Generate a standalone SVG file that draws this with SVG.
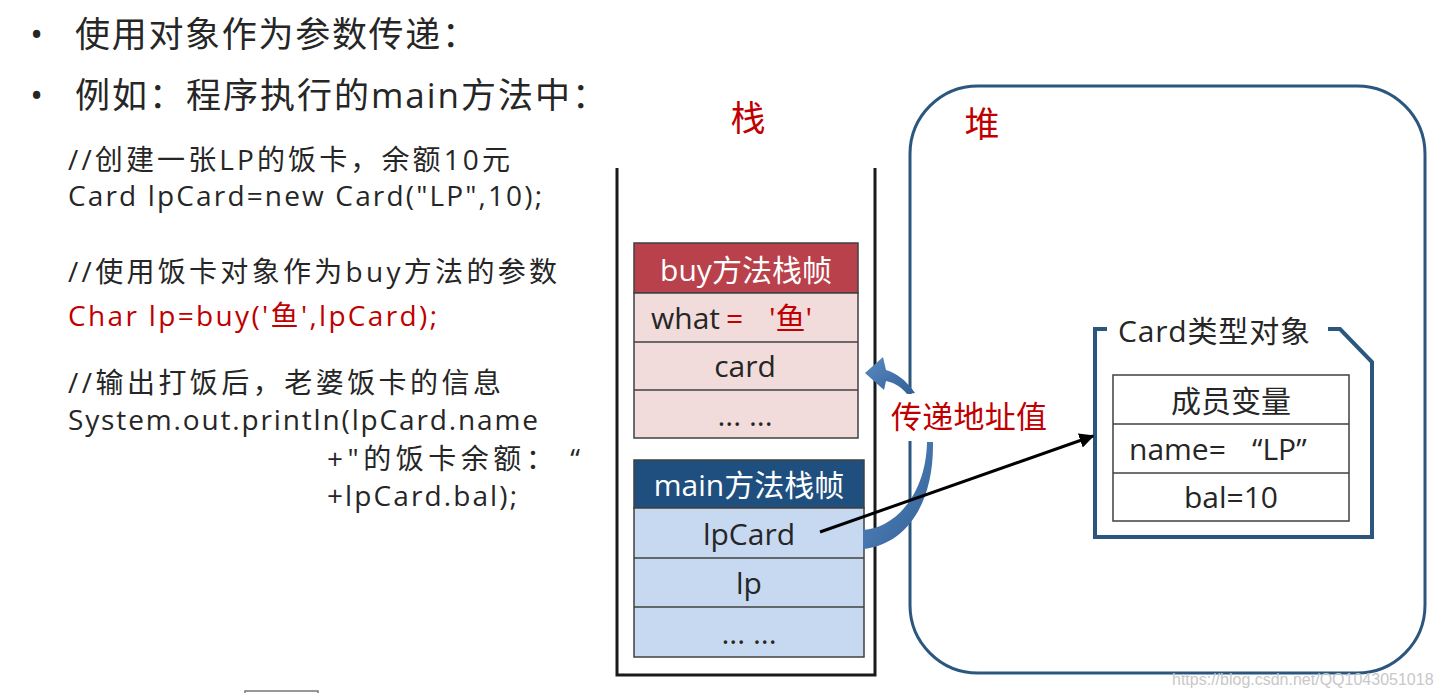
<svg xmlns="http://www.w3.org/2000/svg" width="1440" height="693" viewBox="0 0 1440 693">
<style>
text{font-family:"Open Sans","Noto Sans CJK SC",sans-serif;fill:#262626}
.b{font-size:35px}
.c{font-size:28px}
.red{fill:#c00000}
.cell{font-size:30px;text-anchor:middle}
.hd{font-size:30px;fill:#fff;text-anchor:middle}
.line{stroke:#404040;stroke-width:1.5}
</style>
<defs>
<marker id="ah" viewBox="0 0 10 10" refX="9" refY="5" markerWidth="5" markerHeight="5" orient="auto"><path d="M0,0 L10,5 L0,10 z" fill="#000"/></marker>
<linearGradient id="bg" x1="0" y1="0" x2="1" y2="1"><stop offset="0" stop-color="#5b8bc4"/><stop offset="1" stop-color="#2f5f94"/></linearGradient>
</defs>
<rect width="1440" height="693" fill="#fff"/>

<g id="intro">
<text class="b" x="30" y="47">•</text>
<text class="b" x="75" y="47" textLength="402">使用对象作为参数传递：</text>
<text class="b" x="30" y="108">•</text>
<text class="b" x="75" y="108" textLength="532">例如：程序执行的main方法中：</text>
</g>

<g id="code">
<text class="c" x="68" y="170" textLength="442">//创建一张LP的饭卡，余额10元</text>
<text class="c" x="68" y="206" textLength="474">Card lpCard=new Card("LP",10);</text>
<text class="c" x="68" y="282" textLength="489">//使用饭卡对象作为buy方法的参数</text>
<text class="c red" x="68" y="326" textLength="369">Char lp=buy('鱼',lpCard);</text>
<text class="c" x="68" y="393" textLength="433">//输出打饭后，老婆饭卡的信息</text>
<text class="c" x="68" y="430" textLength="470">System.out.println(lpCard.name</text>
<text class="c" x="327" y="469" textLength="253">+"的饭卡余额：  “</text>
<text class="c" x="327" y="506" textLength="190">+lpCard.bal);</text>
</g>

<g id="heap">
<rect x="910" y="86" width="515" height="587" rx="68" fill="none" stroke="#2b577f" stroke-width="3"/>
<text x="982" y="137" font-size="35" class="red" text-anchor="middle">堆</text>
</g>

<g id="stack">
<path d="M617,168 V675 H875 V168" fill="none" stroke="#1a1a1a" stroke-width="3"/>
<text x="748" y="131" font-size="35" class="red" text-anchor="middle">栈</text>
</g>

<g id="buy-frame">
<rect x="634" y="243" width="224" height="50" fill="#b8414c" class="line"/>
<rect x="634" y="293" width="224" height="145" fill="#f2dcdb" class="line"/>
<line x1="634" y1="342" x2="858" y2="342" class="line"/>
<line x1="634" y1="390" x2="858" y2="390" class="line"/>
<text class="hd" x="746" y="281">buy方法栈帧</text>
<text x="651" y="329" font-size="30">what<tspan class="red" x="726">=</tspan><tspan class="red" x="769">'鱼'</tspan></text>
<text class="cell" x="745" y="377">card</text>
<text class="cell" x="745" y="426">... ...</text>
</g>

<g id="main-frame">
<rect x="634" y="460" width="230" height="48" fill="#1f4f7f" class="line"/>
<rect x="634" y="508" width="230" height="149" fill="#c6d9f0" class="line"/>
<line x1="634" y1="558" x2="864" y2="558" class="line"/>
<line x1="634" y1="607" x2="864" y2="607" class="line"/>
<text class="hd" x="749" y="496">main方法栈帧</text>
<text class="cell" x="749" y="545">lpCard</text>
<text class="cell" x="749" y="594">lp</text>
<text class="cell" x="749" y="644">... ...</text>
</g>

<g id="card-object">
<path d="M1107,329 H1095 V537 H1372 V362 L1340,329 H1328" fill="none" stroke="#2b577f" stroke-width="4"/>
<text x="1118" y="342" font-size="30" textLength="192">Card类型对象</text>
<rect x="1113" y="375" width="236" height="146" fill="#fff" class="line"/>
<line x1="1113" y1="424" x2="1349" y2="424" class="line"/>
<line x1="1113" y1="473" x2="1349" y2="473" class="line"/>
<text class="cell" x="1231" y="412">成员变量</text>
<text x="1129" y="460" font-size="30">name=<tspan x="1252">“LP”</tspan></text>
<text class="cell" x="1231" y="508">bal=10</text>
</g>

<g id="connectors">
<path d="M863,530 C895,528 926,495 927,442 L933,442 C934,505 905,545 863,549 Z" fill="url(#bg)"/>
<path d="M915,393 C905,379 896,373 886,370 L883,357 L865,373 L884,390 L886,381 C896,383 902,388 907,394 Z" fill="url(#bg)"/>
<rect x="886" y="394" width="166" height="47" fill="#fff"/>
<text x="891" y="428" font-size="31" class="red" textLength="156">传递地址值</text>
<line x1="820" y1="532" x2="1093" y2="436" stroke="#000" stroke-width="3" marker-end="url(#ah)"/>
</g>

<rect x="245" y="691" width="73" height="10" fill="none" stroke="#777" stroke-width="1.5"/>
<text x="1172" y="685" font-size="16" style="fill:#c8c8c8;font-family:'Liberation Sans',sans-serif">https://blog.csdn.net/QQ1043051018</text>
</svg>
